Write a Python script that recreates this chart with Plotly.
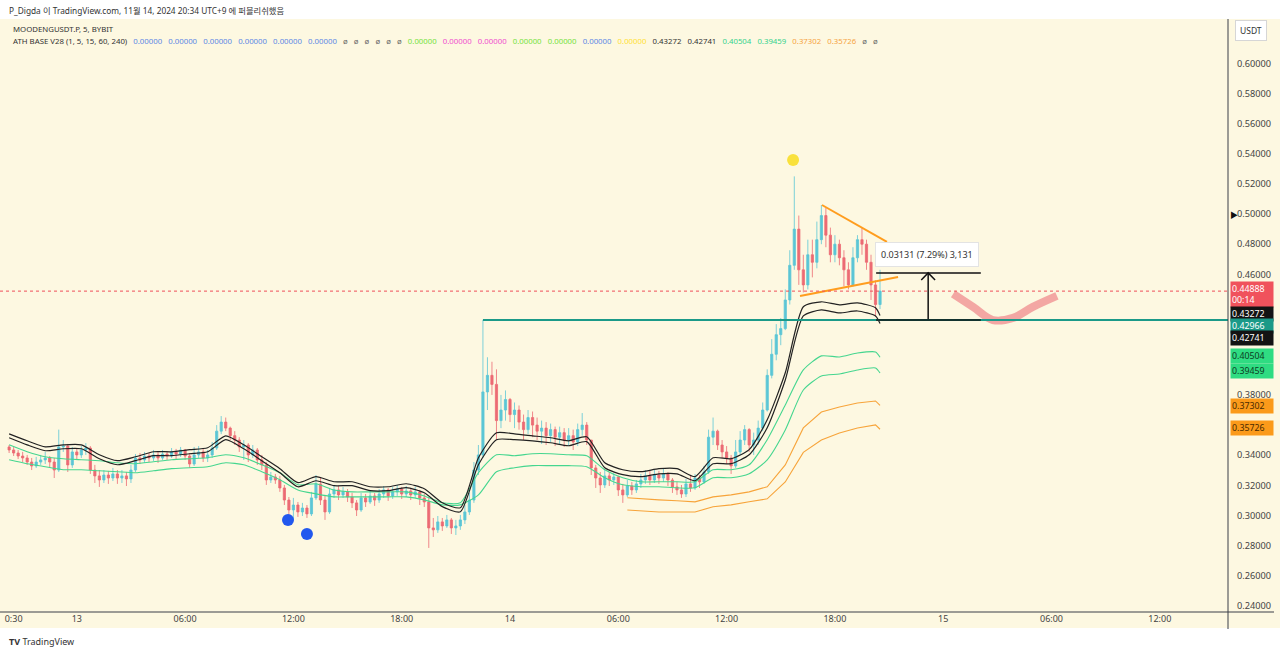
import plotly.graph_objects as go
import pandas as pd

# ---------------- data (15-minute candles, MOODENGUSDT.P) ----------------
candle_start = "2024-11-12 20:15"
first_open = 0.3455
close = [
    0.3435, 0.3415, 0.3395, 0.3382, 0.3355, 0.3329, 0.3355, 0.3369,
    0.3382, 0.3355, 0.3302, 0.3455, 0.3461, 0.3336, 0.3422, 0.3402,
    0.3435, 0.3448, 0.3302, 0.3263, 0.3236, 0.3269, 0.3249, 0.3276,
    0.3249, 0.3263, 0.3243, 0.3302, 0.3382, 0.3369, 0.3395, 0.3382,
    0.3402, 0.3382, 0.3408, 0.3395, 0.3422, 0.3408, 0.3435, 0.3395,
    0.3342, 0.3402, 0.3422, 0.3382, 0.3402, 0.3448, 0.356, 0.362,
    0.358, 0.353, 0.3501, 0.3455, 0.3468, 0.3402, 0.3435, 0.3369,
    0.3336, 0.3236, 0.3256, 0.3236, 0.3183, 0.3103, 0.3037, 0.3070,
    0.3024, 0.3050, 0.3011, 0.3117, 0.3210, 0.3103, 0.3024, 0.3143,
    0.3170, 0.3137, 0.3157, 0.3123, 0.3084, 0.3037, 0.3117, 0.3090,
    0.3130, 0.3103, 0.3143, 0.3170, 0.3130, 0.3157, 0.3176, 0.3143,
    0.3163, 0.3137, 0.3157, 0.3117, 0.3090, 0.2918, 0.2905, 0.2958,
    0.2931, 0.2971, 0.2918, 0.2931, 0.2971, 0.3024, 0.3103, 0.3302,
    0.3402, 0.382, 0.393, 0.387, 0.363, 0.370, 0.377, 0.367,
    0.370, 0.362, 0.357, 0.365, 0.360, 0.356, 0.358, 0.353,
    0.357, 0.352, 0.355, 0.3501, 0.353, 0.3488, 0.357, 0.360,
    0.3501, 0.3316, 0.3249, 0.3203, 0.3263, 0.3236, 0.3256, 0.3170,
    0.3137, 0.3196, 0.3170, 0.3210, 0.3236, 0.3263, 0.3236, 0.3269,
    0.3249, 0.3276, 0.3236, 0.3190, 0.3170, 0.3143, 0.3210, 0.3183,
    0.3249, 0.3223, 0.3289, 0.352, 0.356, 0.3468, 0.3422, 0.3382,
    0.3329, 0.3422, 0.3501, 0.357, 0.3468, 0.3501, 0.358, 0.370,
    0.393, 0.407, 0.420, 0.424, 0.443, 0.466, 0.490, 0.463,
    0.453, 0.473, 0.468, 0.483, 0.499, 0.486, 0.473, 0.480,
    0.471, 0.463, 0.453, 0.471, 0.483, 0.480, 0.468, 0.453,
    0.440, 0.44888,
]
high = [
    0.3468, 0.3455, 0.3435, 0.3422, 0.3402, 0.3382, 0.3389, 0.3402,
    0.3422, 0.3395, 0.3382, 0.357, 0.3501, 0.3475, 0.3455, 0.3448,
    0.3461, 0.3481, 0.3461, 0.3336, 0.3302, 0.3302, 0.3296, 0.3316,
    0.3302, 0.3302, 0.3289, 0.3336, 0.3408, 0.3415, 0.3422, 0.3415,
    0.3435, 0.3422, 0.3435, 0.3428, 0.3448, 0.3442, 0.3455, 0.3442,
    0.3415, 0.3455, 0.3461, 0.3448, 0.3435, 0.3488, 0.360, 0.366,
    0.365, 0.359, 0.356, 0.352, 0.3501, 0.3481, 0.3468, 0.3448,
    0.3402, 0.3355, 0.3289, 0.3276, 0.3263, 0.3203, 0.3123, 0.3117,
    0.3090, 0.3084, 0.3070, 0.3157, 0.3269, 0.3249, 0.3137, 0.3183,
    0.3203, 0.3196, 0.3190, 0.3176, 0.3150, 0.3103, 0.3150, 0.3143,
    0.3163, 0.3150, 0.3176, 0.3196, 0.3183, 0.3190, 0.3203, 0.3190,
    0.3196, 0.3183, 0.3190, 0.3170, 0.3143, 0.3117, 0.2984, 0.2997,
    0.2984, 0.3004, 0.2984, 0.2971, 0.3004, 0.3070, 0.3150, 0.3355,
    0.3468, 0.4297, 0.405, 0.402, 0.397, 0.380, 0.383, 0.378,
    0.375, 0.373, 0.367, 0.370, 0.369, 0.365, 0.363, 0.362,
    0.361, 0.359, 0.359, 0.358, 0.358, 0.357, 0.361, 0.368,
    0.362, 0.3501, 0.3336, 0.3289, 0.3302, 0.3289, 0.3283, 0.3263,
    0.3210, 0.3236, 0.3223, 0.3236, 0.3276, 0.3302, 0.3296, 0.3302,
    0.3296, 0.3309, 0.3289, 0.3249, 0.3223, 0.3203, 0.3243, 0.3263,
    0.3276, 0.3269, 0.3329, 0.357, 0.365, 0.357, 0.3501, 0.3461,
    0.3402, 0.3501, 0.356, 0.360, 0.358, 0.355, 0.363, 0.375,
    0.397, 0.417, 0.427, 0.431, 0.450, 0.476, 0.525, 0.499,
    0.473, 0.483, 0.483, 0.495, 0.506, 0.504, 0.491, 0.486,
    0.483, 0.476, 0.468, 0.478, 0.486, 0.491, 0.483, 0.473,
    0.456, 0.463,
]
low = [
    0.3415, 0.3395, 0.3375, 0.3355, 0.3336, 0.3302, 0.3316, 0.3336,
    0.3342, 0.3322, 0.3249, 0.3289, 0.3422, 0.3289, 0.3316, 0.3369,
    0.3382, 0.3402, 0.3276, 0.3216, 0.3190, 0.3216, 0.3210, 0.3229,
    0.3210, 0.3216, 0.3196, 0.3216, 0.3289, 0.3342, 0.3349, 0.3355,
    0.3362, 0.3349, 0.3369, 0.3369, 0.3382, 0.3375, 0.3389, 0.3369,
    0.3316, 0.3329, 0.3382, 0.3355, 0.3355, 0.3382, 0.3435, 0.354,
    0.356, 0.3501, 0.3468, 0.3422, 0.3369, 0.3355, 0.3382, 0.3336,
    0.3302, 0.3203, 0.3216, 0.3210, 0.3157, 0.3070, 0.2984, 0.2971,
    0.2991, 0.2997, 0.2984, 0.2997, 0.3103, 0.3070, 0.2971, 0.3011,
    0.3117, 0.3103, 0.3117, 0.3090, 0.3050, 0.2997, 0.3024, 0.3057,
    0.3077, 0.3064, 0.3084, 0.3117, 0.3097, 0.3110, 0.3130, 0.3110,
    0.3123, 0.3103, 0.3117, 0.3070, 0.3057, 0.2785, 0.2858, 0.2885,
    0.2898, 0.2918, 0.2878, 0.2871, 0.2905, 0.2944, 0.3004, 0.3084,
    0.3269, 0.3382, 0.370, 0.380, 0.3501, 0.358, 0.363, 0.362,
    0.358, 0.357, 0.3501, 0.354, 0.352, 0.3501, 0.3475, 0.3468,
    0.3488, 0.3461, 0.3475, 0.3455, 0.3461, 0.3435, 0.3461, 0.353,
    0.3468, 0.3269, 0.3183, 0.3150, 0.3183, 0.3196, 0.3203, 0.3130,
    0.3084, 0.3123, 0.3137, 0.3150, 0.3183, 0.3210, 0.3203, 0.3216,
    0.3210, 0.3223, 0.3196, 0.3150, 0.3137, 0.3117, 0.3123, 0.3157,
    0.3170, 0.3183, 0.3210, 0.3276, 0.3468, 0.3435, 0.3382, 0.3342,
    0.3276, 0.3316, 0.3402, 0.3468, 0.3422, 0.3402, 0.3468, 0.356,
    0.369, 0.391, 0.403, 0.413, 0.423, 0.440, 0.463, 0.453,
    0.448, 0.450, 0.458, 0.464, 0.480, 0.478, 0.468, 0.468,
    0.466, 0.452, 0.450, 0.452, 0.468, 0.473, 0.463, 0.443,
    0.432, 0.437,
]

# ATH BASE V28 moving-average lines (hourly samples + last value)
ind_start = "2024-11-12 20:15"
ind_end = "2024-11-14 20:30"
black_fast = [
    0.3542, 0.3496, 0.3456, 0.3469, 0.3469, 0.3403, 0.3364, 0.3390, 0.3423, 0.3423,
    0.3437, 0.3450, 0.3529, 0.3469, 0.3390, 0.3311, 0.3218, 0.3258, 0.3224, 0.3224,
    0.3191, 0.3191, 0.3211, 0.3178, 0.3085, 0.3052, 0.3383, 0.3549, 0.3542, 0.3529,
    0.3516, 0.3496, 0.3523, 0.3350, 0.3304, 0.3291, 0.3311, 0.3311, 0.3258, 0.3383,
    0.3377, 0.3437, 0.3635, 0.3947, 0.4385, 0.4418, 0.4398, 0.4411, 0.4378, 0.43272,
]
black_slow = [
    0.3516, 0.3469, 0.3430, 0.3443, 0.3443, 0.3377, 0.3337, 0.3364, 0.3397, 0.3397,
    0.3410, 0.3423, 0.3503, 0.3443, 0.3364, 0.3284, 0.3191, 0.3231, 0.3198, 0.3198,
    0.3165, 0.3165, 0.3185, 0.3151, 0.3059, 0.3025, 0.3337, 0.3503, 0.3503, 0.3496,
    0.3483, 0.3463, 0.3490, 0.3317, 0.3271, 0.3258, 0.3277, 0.3277, 0.3231, 0.3344,
    0.3344, 0.3403, 0.3582, 0.3899, 0.4324, 0.4364, 0.4344, 0.4357, 0.4324, 0.42741,
]
green_fast = [
    0.3469, 0.3423, 0.3390, 0.3377, 0.3370, 0.3364, 0.3350, 0.3344, 0.3357, 0.3370,
    0.3377, 0.3383, 0.3403, 0.3383, 0.3337, 0.3284, 0.3204, 0.3211, 0.3170, 0.3157,
    0.3157, 0.3157, 0.3157, 0.3130, 0.3085, 0.3085, 0.3284, 0.3403, 0.3397, 0.3410,
    0.3410, 0.3403, 0.3397, 0.3304, 0.3251, 0.3224, 0.3224, 0.3224, 0.3224, 0.3304,
    0.3304, 0.3337, 0.3503, 0.3733, 0.3966, 0.4059, 0.4052, 0.4078, 0.4085, 0.40504,
]
green_slow = [
    0.3370, 0.3344, 0.3324, 0.3304, 0.3304, 0.3297, 0.3291, 0.3284, 0.3297, 0.3311,
    0.3317, 0.3324, 0.3350, 0.3337, 0.3291, 0.3238, 0.3170, 0.3144, 0.3124, 0.3124,
    0.3124, 0.3124, 0.3124, 0.3104, 0.3071, 0.3071, 0.3137, 0.3291, 0.3317, 0.3331,
    0.3331, 0.3331, 0.3324, 0.3251, 0.3204, 0.3191, 0.3191, 0.3184, 0.3184, 0.3251,
    0.3251, 0.3277, 0.3370, 0.3568, 0.3833, 0.3926, 0.3939, 0.3966, 0.3979, 0.39459,
]
orange_first = "2024-11-14 06:30"
orange_hourly_start = "2024-11-14 07:15"
orange_fast = [0.3118, 0.3111, 0.3104, 0.3098, 0.3091, 0.3124, 0.3137, 0.3157,
               0.3191, 0.3336, 0.3581, 0.3687, 0.3720, 0.3747, 0.3760, 0.37302]
orange_slow = [0.3037, 0.3031, 0.3024, 0.3024, 0.3024, 0.3058, 0.3071, 0.3091,
               0.3111, 0.3223, 0.3419, 0.3501, 0.3548, 0.3581, 0.3601, 0.35726]

# price levels / drawings
last_price = 0.44888
level_price = 0.42966
level_start = "2024-11-13 22:30"
measure_top = 0.46097
measure_t0, measure_t1, measure_tx = "2024-11-14 20:17", "2024-11-15 02:05", "2024-11-14 23:10"
arrow_head_t = ["2024-11-14 22:47", "2024-11-14 23:10", "2024-11-14 23:33"]
arrow_head_p = [0.4563, 0.46097, 0.4563]
tri_upper_t = ["2024-11-14 17:17", "2024-11-14 20:53"]
tri_upper_p = [0.506, 0.4815]
tri_lower_t = ["2024-11-14 16:04", "2024-11-14 21:30"]
tri_lower_p = [0.4456, 0.4582]
brush_t = ["2024-11-15 00:33", "2024-11-15 01:39", "2024-11-15 02:45",
           "2024-11-15 03:52", "2024-11-15 04:58", "2024-11-15 06:18"]
brush_p = [0.4470, 0.4384, 0.4297, 0.4311, 0.4384, 0.4457]
top_dot_t, top_dot_p = ["2024-11-14 15:41"], [0.5359]
low_dots_t = ["2024-11-13 11:42", "2024-11-13 12:45"]
low_dots_p = [0.2970, 0.2877]

# visible price-scale labels (0.36/0.40/0.42/0.44 are hidden behind price boxes)
y_ticks = [0.24, 0.26, 0.28, 0.30, 0.32, 0.34, 0.38,
           0.46, 0.48, 0.50, 0.52, 0.54, 0.56, 0.58, 0.60]
x_tick_times = ["2024-11-12 20:30", "2024-11-13 00:00", "2024-11-13 06:00", "2024-11-13 12:00",
                "2024-11-13 18:00", "2024-11-14 00:00", "2024-11-14 06:00", "2024-11-14 12:00",
                "2024-11-14 18:00", "2024-11-15 00:00", "2024-11-15 06:00", "2024-11-15 12:00"]
x_tick_text = ["0:30", "13", "06:00", "12:00", "18:00", "14", "06:00", "12:00",
               "18:00", "15", "06:00", "12:00"]
x_range = ["2024-11-12 19:44:42", "2024-11-15 15:46:40"]
y_range = [0.23602, 0.62872]

# ---------------- build ----------------
times = pd.date_range(candle_start, periods=len(close), freq="15min")
opens = [first_open] + close[:-1]
ind_times = list(pd.date_range(ind_start, periods=len(black_fast) - 1, freq="1h")) + [pd.Timestamp(ind_end)]
orange_times = ([pd.Timestamp(orange_first)]
                + list(pd.date_range(orange_hourly_start, periods=len(orange_fast) - 2, freq="1h"))
                + [pd.Timestamp(ind_end)])

BG = "#fdf8e1"
FONT = "Noto Sans, Open Sans, Noto Sans CJK KR, sans-serif"
W, TOP, BOT = 1228.0, 20.0, 612.0
H = BOT - TOP


def PX(x):
    return x / W


def PY(y):
    return (BOT - y) / H


fig = go.Figure()

for vals in [orange_slow, orange_fast]:
    fig.add_trace(go.Scatter(x=orange_times, y=vals, mode="lines",
                             line=dict(color="#f7a43a", width=1.1), hoverinfo="skip"))
for vals in [green_slow, green_fast]:
    fig.add_trace(go.Scatter(x=ind_times, y=vals, mode="lines",
                             line=dict(color="#45d68f", width=1.1, shape="spline", smoothing=0.6),
                             hoverinfo="skip"))

fig.add_trace(go.Candlestick(
    x=times, open=opens, high=high, low=low, close=close,
    increasing=dict(line=dict(color="#5cc6d6", width=0.8), fillcolor="#5cc6d6"),
    decreasing=dict(line=dict(color="#ec6b74", width=0.8), fillcolor="#ec6b74"),
    whiskerwidth=0, hoverinfo="skip"))

for vals in [black_slow, black_fast]:
    fig.add_trace(go.Scatter(x=ind_times, y=vals, mode="lines",
                             line=dict(color="#222222", width=1.2, shape="spline", smoothing=0.6),
                             hoverinfo="skip"))

fig.add_trace(go.Scatter(x=tri_upper_t, y=tri_upper_p, mode="lines",
                         line=dict(color="#ff9d1e", width=2), hoverinfo="skip"))
fig.add_trace(go.Scatter(x=tri_lower_t, y=tri_lower_p, mode="lines",
                         line=dict(color="#ff9d1e", width=2), hoverinfo="skip"))
fig.add_trace(go.Scatter(x=brush_t, y=brush_p, mode="lines",
                         line=dict(color="rgba(238,118,124,0.62)", width=8, shape="spline"),
                         hoverinfo="skip"))
fig.add_trace(go.Scatter(x=[measure_tx, measure_tx], y=[level_price, measure_top], mode="lines",
                         line=dict(color="#111111", width=1.5), hoverinfo="skip"))
fig.add_trace(go.Scatter(x=arrow_head_t, y=arrow_head_p, mode="lines",
                         line=dict(color="#111111", width=1.5), hoverinfo="skip"))
fig.add_trace(go.Scatter(x=top_dot_t, y=top_dot_p, mode="markers",
                         marker=dict(color="#f9e13c", size=12), hoverinfo="skip"))
fig.add_trace(go.Scatter(x=low_dots_t, y=low_dots_p, mode="markers",
                         marker=dict(color="#2258ee", size=12), hoverinfo="skip"))

shapes = [
    dict(type="rect", xref="paper", yref="paper", x0=0, x1=PX(1280), y0=PY(628), y1=PY(19),
         fillcolor=BG, line=dict(width=0), layer="below"),
    dict(type="line", xref="paper", yref="y", x0=0, x1=1, y0=last_price, y1=last_price,
         line=dict(color="#ef4f5a", width=1, dash="dot")),
    dict(type="line", xref="x", yref="y", x0=level_start, x1=x_range[1], y0=level_price, y1=level_price,
         line=dict(color="#1b9a88", width=2)),
    dict(type="line", xref="x", yref="y", x0=measure_t0, x1=measure_t1, y0=measure_top, y1=measure_top,
         line=dict(color="#111111", width=1.5)),
    dict(type="line", xref="x", yref="y", x0=measure_t0, x1=measure_t1, y0=level_price, y1=level_price,
         line=dict(color="#111111", width=1.5)),
    dict(type="line", xref="paper", yref="paper", x0=0, x1=PX(1274), y0=0, y1=0,
         line=dict(color="#3a3e48", width=1)),
    dict(type="line", xref="paper", yref="paper", x0=1, x1=1, y0=PY(629), y1=PY(19),
         line=dict(color="#3a3e48", width=1)),
]

ann = []
ann.append(dict(xref="paper", yref="paper", x=PX(7), y=PY(10), xanchor="left", yanchor="middle",
                text="P_Digda 이 TradingView.com, 11월 14, 2024 20:34 UTC+9 에 퍼블리쉬했음",
                showarrow=False, font=dict(size=8.3, color="#333333", family=FONT)))
ann.append(dict(xref="paper", yref="paper", x=PX(11), y=PY(29), xanchor="left", yanchor="middle",
                text="MOODENGUSDT.P, 5, BYBIT",
                showarrow=False, font=dict(size=7.8, color="#333333", family=FONT)))


def span(t, c):
    return '<span style="color:%s">%s</span>' % (c, t)


blue, grey, lime, pink, yel, blk, grn, org = ("#5b86e5", "#666666", "#74e23c", "#f04ccf",
                                             "#ffe033", "#333333", "#35d38e", "#f6a443")
parts = ["ATH BASE V28 (1, 5, 15, 60, 240)"]
parts += [span("0.00000", blue)] * 6
parts += [span("ø", grey)] * 6
parts += [span("0.00000", lime), span("0.00000", pink), span("0.00000", pink),
          span("0.00000", lime), span("0.00000", lime), span("0.00000", blue), span("0.00000", yel),
          span("0.43272", blk), span("0.42741", blk), span("0.40504", grn), span("0.39459", grn),
          span("0.37302", org), span("0.35726", org), span("ø", grey), span("ø", grey)]
GAP = "\u00a0\u00a0\u00a0"
ann.append(dict(xref="paper", yref="paper", x=PX(11), y=PY(41), xanchor="left", yanchor="middle",
                text=GAP.join(parts), showarrow=False,
                font=dict(size=7.8, color="#333333", family=FONT)))

ann.append(dict(xref="paper", yref="paper", x=PX(927), y=PY(254), xanchor="center", yanchor="middle",
                text="0.03131 (7.29%) 3,131", showarrow=False, bgcolor="#ffffff",
                bordercolor="#e3e3e3", borderwidth=1, borderpad=5,
                font=dict(size=9, color="#333333", family=FONT)))

boxes = [
    ("0.44888<br>00:14", "#f0525c", "#ffffff", 294),
    ("0.43272", "#131313", "#ffffff", 314),
    ("0.42966", "#1b9a88", "#ffffff", 326),
    ("0.42741", "#131313", "#ffffff", 338),
    ("0.40504", "#2fdc82", "#0c3b22", 356),
    ("0.39459", "#2fdc82", "#0c3b22", 371),
    ("0.37302", "#fb9a1a", "#4a2a00", 406),
    ("0.35726", "#fb9a1a", "#4a2a00", 428),
]
for txt, bg, fg, yy in boxes:
    ann.append(dict(xref="paper", yref="paper", x=PX(1230), y=PY(yy), xanchor="left", yanchor="middle",
                    text=txt, showarrow=False, bgcolor=bg, borderpad=1, align="left", width=40,
                    font=dict(size=8.8, color=fg, family=FONT)))
ann.append(dict(xref="paper", yref="paper", x=PX(1251), y=PY(31), xanchor="center", yanchor="middle",
                text="USDT", showarrow=False, bgcolor="#ffffff", bordercolor="#d6d6d6",
                borderwidth=1, borderpad=4, font=dict(size=8.5, color="#333333", family=FONT)))
ann.append(dict(xref="paper", yref="paper", x=PX(1228), y=PY(214), xanchor="left", yanchor="middle",
                text="▶", showarrow=False, font=dict(size=8, color="#111111", family=FONT)))
ann.append(dict(xref="paper", yref="paper", x=PX(7), y=PY(641), xanchor="left", yanchor="middle",
                text="<b>TV</b> TradingView", showarrow=False,
                font=dict(size=9, color="#333333", family=FONT)))

fig.update_layout(
    width=1280, height=654,
    margin=dict(l=0, r=52, t=20, b=42, pad=0),
    paper_bgcolor="#ffffff", plot_bgcolor=BG,
    showlegend=False, template="none",
    shapes=shapes, annotations=ann,
    xaxis=dict(type="date", range=x_range, rangeslider=dict(visible=False),
               tickvals=x_tick_times, ticktext=x_tick_text, showgrid=False, zeroline=False,
               showline=False, ticks="", automargin=False,
               tickfont=dict(size=9, color="#444444", family=FONT)),
    yaxis=dict(side="right", range=y_range, tickvals=y_ticks, tickformat=".5f",
               showgrid=False, zeroline=False, showline=False, ticks="", automargin=False,
               ticklabelstandoff=8,
               tickfont=dict(size=9.2, color="#444444", family=FONT)),
    hovermode=False,
)

fig.write_html("out.html")
